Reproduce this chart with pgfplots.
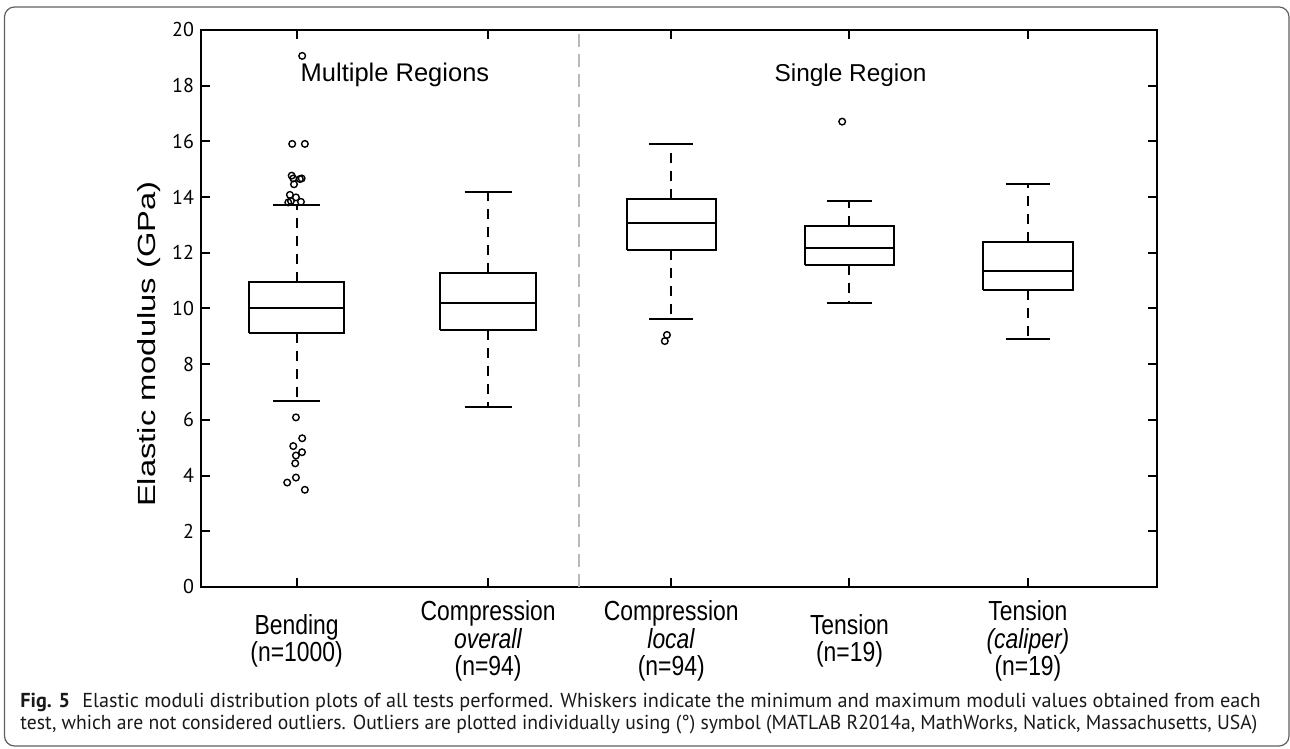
\documentclass[border=0pt]{standalone}
\usepackage{pgfplots}
\pgfplotsset{compat=1.18}
\usepackage{graphicx}
\usepackage{fontspec}
\setmainfont{Liberation Sans}
\newfontfamily\labfont[FakeStretch=0.83]{Liberation Sans}
\newfontfamily\ylabfont[FakeStretch=1.32]{Liberation Sans}
\newfontfamily\capfont{PT Sans}
\newfontfamily\tickfont{PT Sans}
\definecolor{framegray}{RGB}{95,95,95}
\definecolor{sepgray}{RGB}{185,185,185}
\definecolor{captext}{RGB}{25,25,25}
\pgfplotsset{
  boxline/.style={black, line width=1pt, solid, no marks},
  whisk/.style={black, line width=1pt, dash pattern=on 5pt off 4pt, no marks},
}
\begin{document}
\begin{tikzpicture}
\path[use as bounding box] (0,0) rectangle (645pt,374.5pt);
\draw[framegray, line width=0.6pt, rounded corners=5pt] (2.25pt,1.5pt) rectangle (644.5pt,371pt);
\begin{axis}[
  at={(100.5pt,81pt)}, anchor=south west,
  scale only axis, width=478pt, height=278.5pt,
  xmin=0.4639, xmax=5.8213, ymin=0, ymax=20,
  ytick={0,2,...,20},
  xtick={1,2.073,3.099,4.098,5.098},
  xticklabels={{Bending\\(n=1000)},{Compression\\\textit{overall}\\(n=94)},{Compression\\\textit{local}\\(n=94)},{Tension\\(n=19)},{Tension\\\textit{(caliper)}\\(n=19)}},
  xticklabel style={align=center, anchor=center, yshift=-27pt, font=\labfont\fontsize{13.8}{13.6}\selectfont},
  yticklabel style={font=\tickfont\fontsize{10}{10}\selectfont},
  /pgf/number format/assume math mode=true,
  tick align=inside, major tick length=4.5pt,
  tick style={black, line width=1pt},
  axis line style={black, line width=1pt},
  ylabel={\ylabfont\fontsize{12.4}{14}\selectfont Elastic modulus (GPa)},
  every axis y label/.style={at={(axis description cs:-0.0544,0.436)}, rotate=90, anchor=center},
  clip=false,
]
% separator
\addplot[sepgray, line width=0.9pt, dash pattern=on 6.5pt off 3.5pt] coordinates {(2.581,0) (2.581,20)};

% Bending: x=1, half box 0.268, half cap 0.1315
\addplot[boxline] coordinates {(0.732,9.11) (1.268,9.11) (1.268,10.96) (0.732,10.96) (0.732,9.11)};
\addplot[boxline] coordinates {(0.732,10.0) (1.268,10.0)};
\addplot[whisk] coordinates {(1,10.96) (1,13.70)};
\addplot[whisk] coordinates {(1,9.11) (1,6.69)};
\addplot[boxline] coordinates {(0.8685,13.70) (1.1315,13.70)};
\addplot[boxline] coordinates {(0.8685,6.69) (1.1315,6.69)};

% Compression overall: x=2.073
\addplot[boxline] coordinates {(1.805,9.23) (2.341,9.23) (2.341,11.29) (1.805,11.29) (1.805,9.23)};
\addplot[boxline] coordinates {(1.805,10.19) (2.341,10.19)};
\addplot[whisk] coordinates {(2.073,11.29) (2.073,14.19)};
\addplot[whisk] coordinates {(2.073,9.23) (2.073,6.47)};
\addplot[boxline] coordinates {(1.9415,14.19) (2.2045,14.19)};
\addplot[boxline] coordinates {(1.9415,6.47) (2.2045,6.47)};

% Compression local: x=3.099, half box 0.25, half cap 0.124
\addplot[boxline] coordinates {(2.849,12.11) (3.349,12.11) (3.349,13.92) (2.849,13.92) (2.849,12.11)};
\addplot[boxline] coordinates {(2.849,13.07) (3.349,13.07)};
\addplot[whisk] coordinates {(3.099,13.92) (3.099,15.92)};
\addplot[whisk] coordinates {(3.099,12.11) (3.099,9.61)};
\addplot[boxline] coordinates {(2.975,15.92) (3.223,15.92)};
\addplot[boxline] coordinates {(2.975,9.61) (3.223,9.61)};

% Tension: x=4.098
\addplot[boxline] coordinates {(3.848,11.57) (4.348,11.57) (4.348,12.95) (3.848,12.95) (3.848,11.57)};
\addplot[boxline] coordinates {(3.848,12.16) (4.348,12.16)};
\addplot[whisk] coordinates {(4.098,12.95) (4.098,13.86)};
\addplot[whisk] coordinates {(4.098,11.57) (4.098,10.20)};
\addplot[boxline] coordinates {(3.974,13.86) (4.222,13.86)};
\addplot[boxline] coordinates {(3.974,10.20) (4.222,10.20)};

% Tension caliper: x=5.098
\addplot[boxline] coordinates {(4.848,10.65) (5.348,10.65) (5.348,12.39) (4.848,12.39) (4.848,10.65)};
\addplot[boxline] coordinates {(4.848,11.34) (5.348,11.34)};
\addplot[whisk] coordinates {(5.098,12.39) (5.098,14.47)};
\addplot[whisk] coordinates {(5.098,10.65) (5.098,8.90)};
\addplot[boxline] coordinates {(4.974,14.47) (5.222,14.47)};
\addplot[boxline] coordinates {(4.974,8.90) (5.222,8.90)};

% outliers
\addplot[only marks, mark=o, mark size=1.65pt, mark options={black, line width=0.7pt, solid}] coordinates {
 (1.031,19.07) (0.975,15.91) (1.046,15.91) (0.972,14.77) (0.981,14.67) (1.018,14.65) (1.028,14.67)
 (0.985,14.46) (0.962,14.08) (0.996,13.99) (1.024,13.83) (0.953,13.81) (0.968,13.86)
 (0.996,6.09) (1.031,5.34) (0.981,5.06) (1.030,4.84) (0.996,4.72) (0.992,4.44) (0.996,3.93)
 (0.947,3.75) (1.046,3.49)
 (3.075,9.05) (3.063,8.83)
 (4.057,16.71)
};

\node[anchor=base, font=\fontsize{12.75}{14}\selectfont] at (axis cs:1.551,18.14) {Multiple Regions};
\node[anchor=base, font=\fontsize{12.2}{14}\selectfont] at (axis cs:4.104,18.14) {Single Region};
\end{axis}
\node[anchor=base west, text=captext, font=\capfont\fontsize{10.1}{11}\selectfont, inner sep=0pt] at (10pt,20.5pt)
  {\textbf{Fig. 5}\hspace{0.6em}Elastic moduli distribution plots of all tests performed. Whiskers indicate the minimum and maximum moduli values obtained from each};
\node[anchor=base west, text=captext, font=\capfont\fontsize{10.1}{11}\selectfont, inner sep=0pt] at (10pt,9.5pt)
  {\scalebox{0.972}[1]{test, which are not considered outliers. Outliers are plotted individually using (°) symbol (MATLAB R2014a, MathWorks, Natick, Massachusetts, USA)}};
\end{tikzpicture}
\end{document}
